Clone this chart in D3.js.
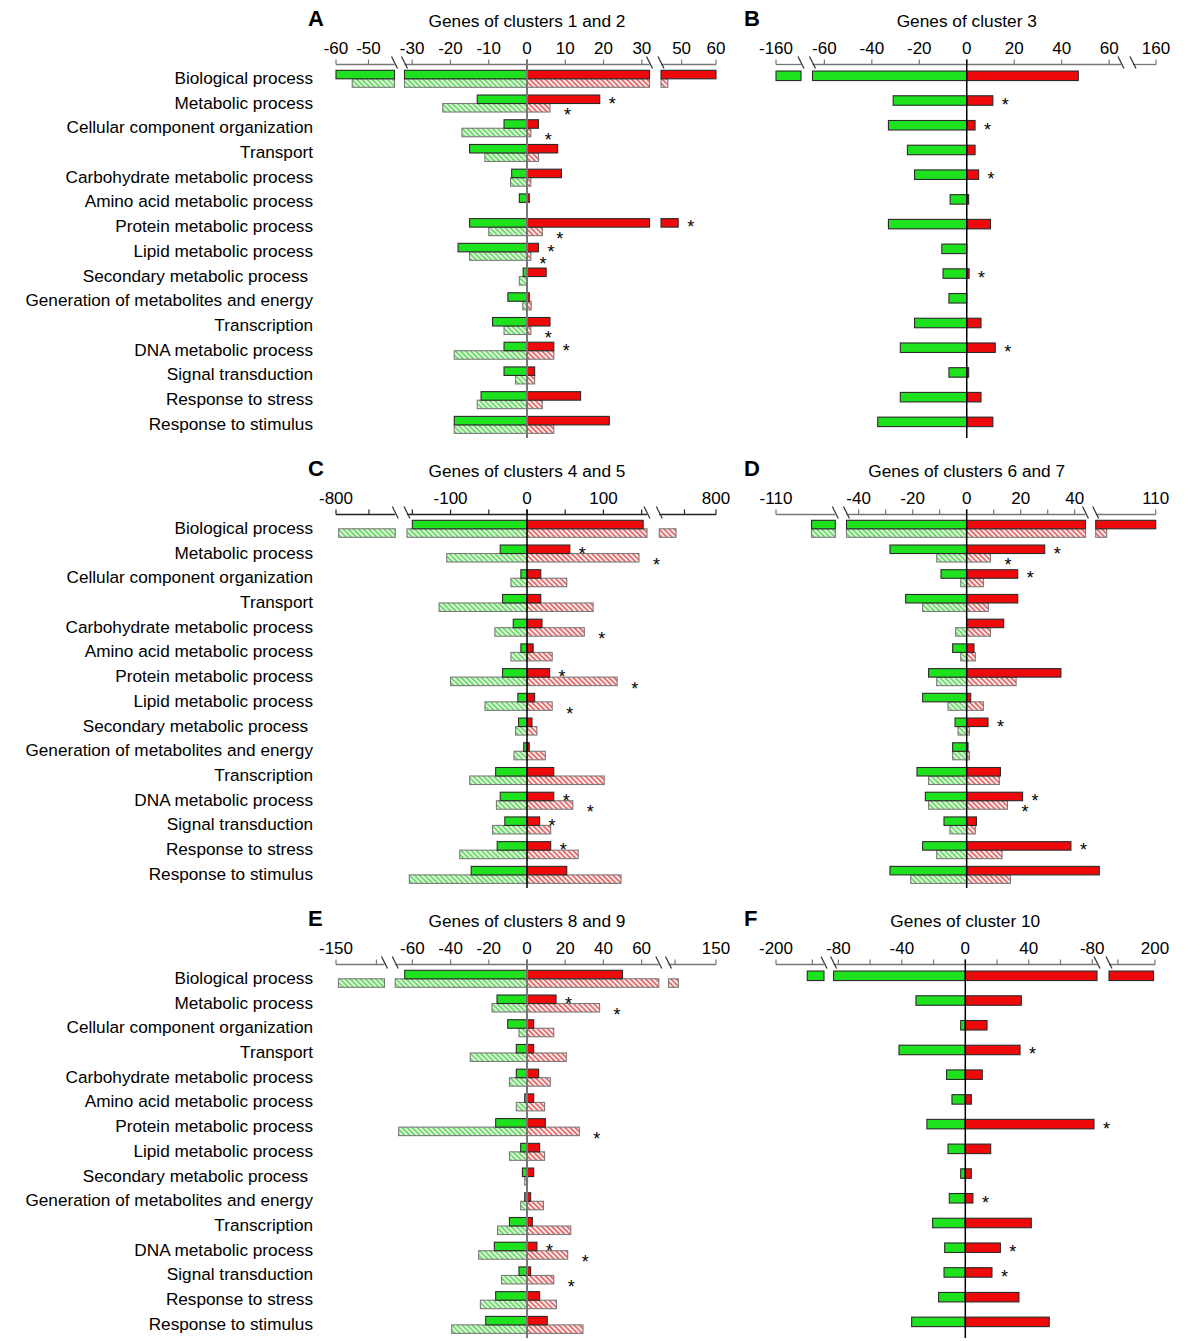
<!DOCTYPE html>
<html><head><meta charset="utf-8">
<script src="https://cdn.jsdelivr.net/npm/d3@7"></script>
<style>
body{margin:0;background:#fff}
svg{display:block}
text{font-family:"Liberation Sans",Arial,sans-serif;fill:#000;white-space:pre}
</style>
</head><body>
<svg id="chart" width="1200" height="1341"></svg>
<script>
// ---------------- DATA ----------------
const categories = ["Biological process","Metabolic process","Cellular component organization","Transport",
  "Carbohydrate metabolic process","Amino acid metabolic process","Protein metabolic process",
  "Lipid metabolic process","Secondary metabolic process ","Generation of metabolites and energy",
  "Transcription","DNA metabolic process","Signal transduction","Response to stress","Response to stimulus"];

// Panel A
const A_title = "Genes of clusters 1 and 2";
const A_segments = [[-60,-42],[-32,32],[44,60]];
const A_ticks = [-60,-50,-30,-20,-10,0,10,20,30,50,60];
const A_tickLabels = ["-60","-50","-30","-20","-10","0","10","20","30","50","60"];
const A_downSolid   = [-60,-13,-6,-15,-4,-2,-15,-18,-1,-5,-9,-6,-6,-12,-19];
const A_upSolid     = [60,19,3,8,9,0.6,49,3,5,0.6,6,7,2,14,21.5];
const A_downHatched = [-55,-22,-17,-11,-4.3,0,-10,-15,-2,-1.1,-6,-19,-3,-13,-19];
const A_upHatched   = [46,6,1,3,1,0,4,1,0,1.1,1,7,2,4,7];
const A_starSolid   = [1,6,7,11];
const A_starHatched = [1,2,6,7,10];

// Panel B
const B_title = "Genes of cluster 3";
const B_segments = [[-160,-140],[-65,65],[140,160]];
const B_ticks = [-160,-60,-40,-20,0,20,40,60,160];
const B_tickLabels = ["-160","-60","-40","-20","0","20","40","60","160"];
const B_down = [-160,-31,-33,-25,-22,-7,-33,-10.5,-10,-7.5,-22,-28,-7.5,-28,-37.5];
const B_up   = [47,11,3.5,3.5,5,0.8,10,0,1,0,6,12,0.8,6,11];
const B_star = [1,2,4,8,11];

// Panel C
const C_title = "Genes of clusters 4 and 5";
const C_segments = [[-800,-440],[-157,157],[440,800]];
const C_ticks = [-800,-600,-150,-100,-50,0,50,100,150,600,800];
const C_tickLabels = ["-800","","","-100","","0","","100","","","800"];
const C_downSolid   = [-150,-35,-8,-32,-18,-8,-32,-12,-11,-4.3,-41,-35,-29,-39,-73];
const C_upSolid     = [152,56,18,18,19.6,8,29.6,10,6.5,3,35,35,16.5,31,52];
const C_downHatched = [-784,-105,-21,-115,-42,-21,-100,-55,-15,-17,-75,-40,-45,-88,-154];
const C_upHatched   = [546,146.5,52,86.5,75,33,118,33,13,24,101,60,31,67,123];
const C_starSolid   = [1,6,11,12,13];
const C_starHatched = [1,4,6,7,11];

// Panel D
const D_title = "Genes of clusters 6 and 7";
const D_segments = [[-110,-50],[-44.5,44],[50,110]];
const D_ticks = [-110,-40,-30,-20,-10,0,10,20,30,40,110];
const D_tickLabels = ["-110","-40","","-20","","0","","20","","40","110"];
const D_downSolid   = [-74,-28.4,-9.5,-22.6,0,-5.2,-14.1,-16.3,-4.3,-5.2,-18.4,-15.3,-8.4,-16.3,-28.4];
const D_upSolid     = [110,28.9,18.9,18.9,13.7,2.7,34.9,1.5,7.9,0.5,12.5,20.7,3.6,38.6,49.1];
const D_downHatched = [-74,-11.1,-2.2,-16.3,-4.1,-2.2,-11.1,-6.9,-3.2,-5.2,-14.1,-14.1,-6.2,-11.1,-20.7];
const D_upHatched   = [61,8.8,6.2,8,8.8,3.2,18.3,6.2,1,1,12.1,15.1,3.2,13.1,16.2];
const D_starSolid   = [1,2,8,11,13];
const D_starHatched = [1,11];

// Panel E
const E_title = "Genes of clusters 8 and 9";
const E_segments = [[-150,-90],[-69,69],[92,150]];
const E_ticks = [-150,-100,-60,-40,-20,0,20,40,60,100,150];
const E_tickLabels = ["-150","","-60","-40","-20","0","20","40","60","","150"];
const E_downSolid   = [-64,-15.7,-10.1,-5.6,-5.6,-1.2,-16.4,-3.3,-2.4,-1.2,-9.2,-17.1,-4.2,-16.4,-21.6];
const E_upSolid     = [50,15.2,3.5,3.5,6.1,3.5,9.6,6.6,3.5,1.9,2.8,5.2,1.9,6.6,10.6];
const E_downHatched = [-147,-18.3,-4.2,-29.7,-9.2,-5.6,-67.2,-9.2,-1.2,-3.3,-15.4,-25.3,-13.3,-24.4,-39.4];
const E_upHatched   = [104,38,14,20.6,12.2,9.2,27.4,9.2,0.3,8.6,22.9,21.3,14,15.4,29.3];
const E_starSolid   = [1,11];
const E_starHatched = [1,6,11,12];

// Panel F
const F_title = "Genes of cluster 10";
const F_segments = [[-200,-134],[-83,83],[138,200]];
const F_ticks = [-200,-150,-80,-60,-40,-20,0,20,40,60,80,150,200];
const F_tickLabels = ["-200","","-80","","-40","","0","","40","","-80","","200"];
const F_down = [-157,-31.1,-2.9,-41.8,-11.8,-8.4,-24.2,-10.9,-2.9,-10.1,-20.6,-13,-13.4,-16.8,-33.8];
const F_up   = [198,35.3,13.7,34.5,10.7,3.8,81.1,16,3.8,4.8,41.6,22.1,16.8,33.8,52.9];
const F_star = [3,6,9,11,12];

// ---------------- LAYOUT ----------------
const panels = [
  {letter:"A", title:A_title, segments:A_segments, ticks:A_ticks, tickLabels:A_tickLabels,
   ranges:[[336,394.5],[404.5,649.5],[661,716]], axisY:64.5, side:"left", axisColor:"#777", zeroColor:"#777", zeroW:2,
   series:[{down:A_downSolid, up:A_upSolid, hatched:false, stars:A_starSolid},
           {down:A_downHatched, up:A_upHatched, hatched:true, stars:A_starHatched}], pair:true},
  {letter:"B", title:B_title, segments:B_segments, ticks:B_ticks, tickLabels:B_tickLabels,
   ranges:[[776,801],[812.5,1121],[1133,1156]], axisY:64.5, side:"right", axisColor:"#777", zeroColor:"#000", zeroW:1.5,
   series:[{down:B_down, up:B_up, hatched:false, stars:B_star}], pair:false},
  {letter:"C", title:C_title, segments:C_segments, ticks:C_ticks, tickLabels:C_tickLabels,
   ranges:[[336,395.3],[407,647],[659.3,716]], axisY:514.5, side:"left", axisColor:"#222", zeroColor:"#000", zeroW:1.5,
   series:[{down:C_downSolid, up:C_upSolid, hatched:false, stars:C_starSolid},
           {down:C_downHatched, up:C_upHatched, hatched:true, stars:C_starHatched}], pair:true},
  {letter:"D", title:D_title, segments:D_segments, ticks:D_ticks, tickLabels:D_tickLabels,
   ranges:[[776,835.3],[846.5,1085.5],[1095.7,1155.7]], axisY:514.5, side:"right", axisColor:"#777", zeroColor:"#000", zeroW:1.5,
   series:[{down:D_downSolid, up:D_upSolid, hatched:false, stars:D_starSolid},
           {down:D_downHatched, up:D_upHatched, hatched:true, stars:D_starHatched}], pair:true},
  {letter:"E", title:E_title, segments:E_segments, ticks:E_ticks, tickLabels:E_tickLabels,
   ranges:[[336,384.5],[395.2,658.8],[668.5,716]], axisY:964.5, side:"left", axisColor:"#777", zeroColor:"#777", zeroW:2,
   series:[{down:E_downSolid, up:E_upSolid, hatched:false, stars:E_starSolid},
           {down:E_downHatched, up:E_upHatched, hatched:true, stars:E_starHatched}], pair:true},
  {letter:"F", title:F_title, segments:F_segments, ticks:F_ticks, tickLabels:F_tickLabels,
   ranges:[[776,824],[833.6,1097],[1109,1155]], axisY:964.5, side:"right", axisColor:"#777", zeroColor:"#000", zeroW:1.5,
   series:[{down:F_down, up:F_up, hatched:false, stars:F_star}], pair:false}
];

const GREEN = "#1fe21f", RED = "#ee0a0a";
const svg = d3.select("#chart");
const defs = svg.append("defs");
function hatch(id, bg, line){
  const s = 3.6;
  const p = defs.append("pattern").attr("id", id).attr("patternUnits","userSpaceOnUse")
    .attr("width", s).attr("height", s).attr("patternTransform","rotate(-45)");
  p.append("rect").attr("width", s).attr("height", s).attr("fill", bg);
  p.append("line").attr("x1", s/2).attr("y1", 0).attr("x2", s/2).attr("y2", s)
    .attr("stroke", line).attr("stroke-width", 1.3);
}
hatch("hg", "#e4f9e0", "#3fcf3f");
hatch("hr", "#fdf0f0", "#dd3a3a");

panels.forEach(p => {
  const g = svg.append("g");
  const barLayer = g.append("g"), starLayer = g.append("g");
  const scales = p.segments.map((d,i) => d3.scaleLinear().domain(d).range(p.ranges[i]));
  const [L, M, R] = scales;
  const ay = p.axisY;
  const rowY = d3.scalePoint().domain(d3.range(categories.length)).range([ay + 14.3, ay + 14.3 + 14*24.72]);

  const pos = v => {
    for (const s of scales) { const [a,b] = s.domain(); if (v >= a && v <= b) return s(v); }
    return M(v);
  };
  const pieces = v => {
    if (!v) return [];
    if (v <= p.segments[0][1]) return [[L(v), L.range()[1]], [M.range()[0], M(0)]];
    if (v >= p.segments[2][0]) return [[M(0), M.range()[1]], [R.range()[0], R(v)]];
    return [[Math.min(M(0), M(v)), Math.max(M(0), M(v))]];
  };

  // axis segments
  scales.forEach(s => {
    g.append("line").attr("x1", s.range()[0]).attr("x2", s.range()[1]).attr("y1", ay).attr("y2", ay)
      .attr("stroke", p.axisColor).attr("stroke-width", 1.3);
  });
  // break slashes
  [L.range()[1], M.range()[0], M.range()[1], R.range()[0]].forEach(x => {
    g.append("line").attr("x1", x - 3).attr("y1", ay - 8).attr("x2", x + 3).attr("y2", ay + 4)
      .attr("stroke", "#333").attr("stroke-width", 1.2);
  });
  // ticks
  p.ticks.forEach((t, i) => {
    const x = pos(t);
    g.append("line").attr("x1", x).attr("x2", x).attr("y1", ay - 5).attr("y2", ay)
      .attr("stroke", p.axisColor).attr("stroke-width", 1.2);
    if (p.tickLabels[i]) g.append("text").attr("x", x).attr("y", ay - 10.5).attr("text-anchor","middle")
      .attr("font-size", 17).text(p.tickLabels[i]);
  });
  // title & letter
  g.append("text").attr("x", M(0)).attr("y", ay - 37.5).attr("text-anchor","middle").attr("font-size", 17.3).text(p.title);
  g.append("text").attr("x", p.side === "left" ? 308 : 744).attr("y", ay - 38.5)
    .attr("font-size", 22).attr("font-weight","bold").text(p.letter);

  // category labels
  if (p.side === "left") {
    g.selectAll("text.cat").data(categories).join("text").attr("class","cat")
      .attr("x", 313).attr("y", (d,i) => rowY(i) + 5).attr("text-anchor","end").attr("font-size", 17.2)
      .text(d => d);
  }

  // bars (hatched drawn first so the solid outline sits on top)
  const order = p.series.slice().sort((a,b) => (b.hatched?1:0) - (a.hatched?1:0));
  order.forEach(s => {
    let y0, h;
    if (p.pair) { h = 8.5; y0 = s.hatched ? 0 : -8.5; }
    else { h = 9.5; y0 = -3 - 4.75; }
    const drawSide = (vals, color) => {
      vals.forEach((v, i) => {
        pieces(v).forEach(([x0, x1]) => {
          barLayer.append("rect").attr("x", x0).attr("y", rowY(i) + y0).attr("width", Math.max(0, x1 - x0)).attr("height", h)
            .attr("fill", s.hatched ? (color === GREEN ? "url(#hg)" : "url(#hr)") : color)
            .attr("stroke", s.hatched ? "#7a7a7a" : "#2a2a2a").attr("stroke-width", 1.1);
        });
      });
    };
    drawSide(s.down, GREEN);
    drawSide(s.up, RED);
  });

  // significance stars (solid first, then hatched; nudged so they don't collide)
  const placed = [];
  const W = 8;
  p.series.forEach(s => {
    let y0, h;
    if (p.pair) { h = 8.5; y0 = s.hatched ? 0 : -8.5; }
    else { h = 9.5; y0 = -3 - 4.75; }
    s.stars.forEach(i => {
      const ps = pieces(s.up[i]);
      const end = ps.length ? d3.max(ps, d => d[1]) : M(0);
      const cy = rowY(i) + y0 + h/2 + (s.hatched ? 3 : 0);
      let x = end + (s.hatched ? 14 : 9);
      placed.forEach(q => {
        if (Math.abs(q.cy - cy) < 18 && Math.abs(q.x - x) < W) {
          x = (q.x - W >= end + 3) ? q.x - W : q.x + W;
        }
      });
      placed.push({x, cy});
      starLayer.append("text").attr("x", x).attr("y", cy + 10.5).attr("font-size", 18).text("*");
    });
  });

  // zero line
  g.append("line").attr("x1", M(0)).attr("x2", M(0)).attr("y1", ay - 5).attr("y2", rowY(14) + 13)
    .attr("stroke", p.zeroColor).attr("stroke-width", p.zeroW);
});
</script>
</body></html>
